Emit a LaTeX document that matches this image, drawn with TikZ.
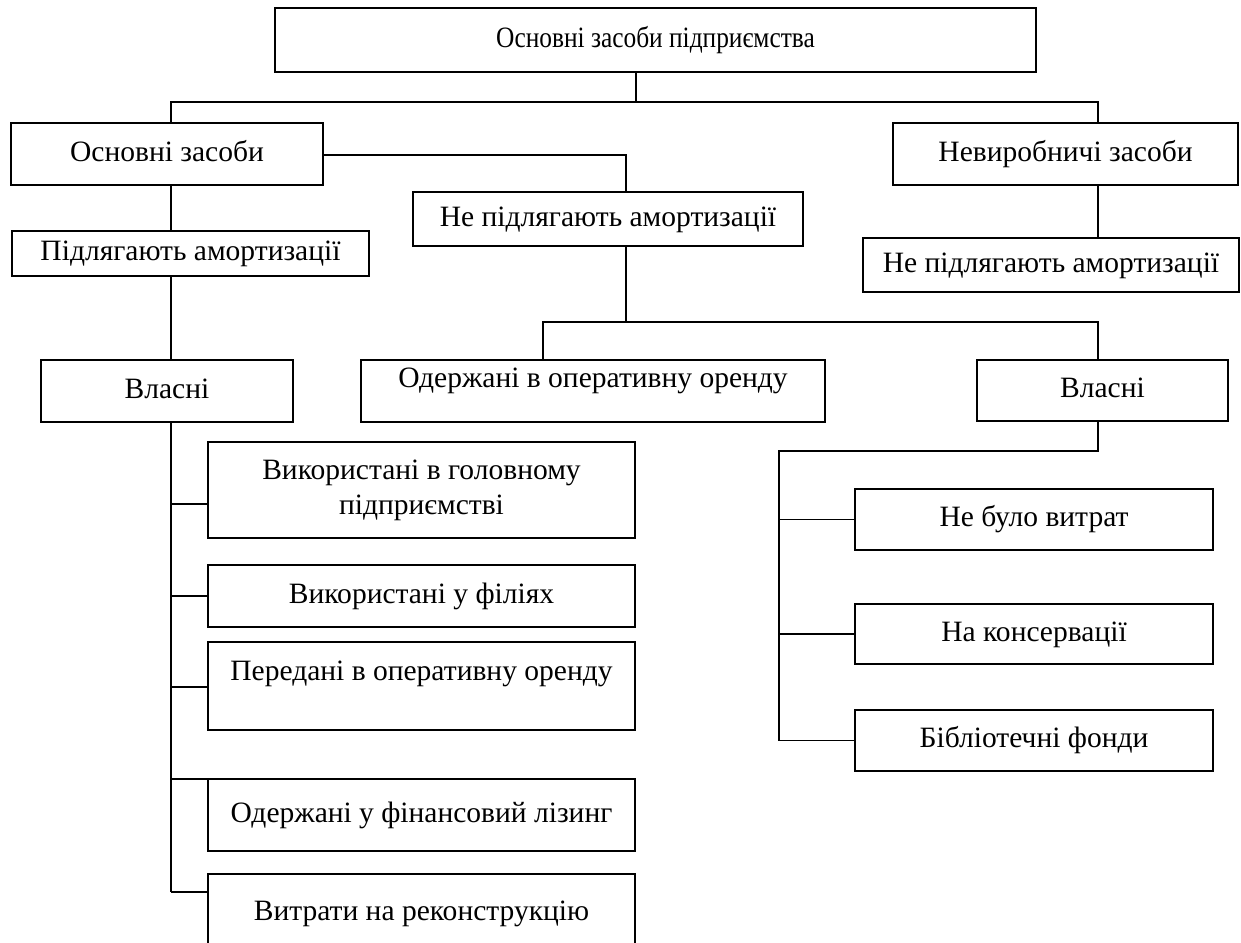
\documentclass[tikz,border=0pt]{standalone}
\usepackage{fontspec}
\setmainfont{Liberation Serif}
\usepackage{graphicx}
\usetikzlibrary{positioning}
\tikzset{
  box/.style={draw, line width=1.1pt, inner sep=0pt, font=\fontsize{16.8}{19.8}\selectfont},
  onebox/.style={box, text height=11.7pt, text depth=3.6pt},
  sz/.style 2 args={minimum width=#1*0.02cm, minimum height=#2*0.02cm},
  link/.style={line width=0.9pt}
}

\begin{document}
\begin{tikzpicture}[x=0.02cm,y=-0.02cm]
	\useasboundingbox (0,0) rectangle (1241,943);
	\clip (0,0) rectangle (1241,943);
	% boxes
	\node[onebox, sz={761}{64}] (top) at (655.5,40) {\scalebox{0.86}[1]{Основні засоби підприємства}};
	\node[onebox, sz={312}{62}] (osn) at (167,154) {Основні засоби};
	\node[onebox, sz={345}{62}] (nevyr) at (1065.5,154) {Невиробничі засоби};
	\node[onebox, sz={390}{54}] (mid) at (608,219) {Не підлягають амортизації};
	\node[onebox, sz={357}{45}] (pidl) at (190.5,253.5) {Підлягають амортизації};
	\node[onebox, sz={376}{54}] (nepidl) at (1051,265) {Не підлягають амортизації};
	\node[onebox, sz={252}{62}] (vlasL) at (167,391) {Власні};
	\node[onebox, sz={464}{62}, text depth=16pt] (oderzh) at (593,391) {Одержані в оперативну оренду};
	\node[onebox, sz={251}{61}] (vlasR) at (1102.5,390.5) {Власні};
	\node[box, sz={427}{96}, align=center] (b1) at (421.5,490) {Використані в головному\\підприємстві};
	\node[onebox, sz={427}{62}] (b2) at (421.5,596) {Використані у філіях};
	\node[onebox, sz={427}{88}, text depth=18pt] (b3) at (421.5,686) {Передані в оперативну оренду};
	\node[onebox, sz={427}{72}] (b4) at (421.5,815) {Одержані у фінансовий лізинг};
	\node[onebox, sz={427}{78}] (b5) at (421.5,913) {Витрати на реконструкцію};
	\node[onebox, sz={358}{61}] (c1) at (1034,519.5) {Не було витрат};
	\node[onebox, sz={358}{60}] (c2) at (1034,634) {На консервації};
	\node[onebox, sz={358}{61}] (c3) at (1034,740.5) {Бібліотечні фонди};
	% junctions
	\coordinate (t0) at (171,102);
	\coordinate (t1) at (636,102);
	\coordinate (t2) at (1098,102);
	\coordinate (m1) at (626,155);
	\coordinate (n1) at (543,322);
	\coordinate (n2) at (1098,322);
	\coordinate (k0) at (1098,451);
	\coordinate (k1) at (779,451);
	\foreach \n/\y in {1/504,2/596,3/687,4/779,5/892}
		\coordinate (l\n) at (171,\y);
	% links
	\draw[link] (top.south -| t1) -- (t1);
	\draw[link] (osn.north -| t0) -- (t0) -- (t2) -- (nevyr.north -| t2);
	\draw[link] (osn.east |- m1) -- (m1) -- (mid.north -| m1);
	\draw[link] (osn.south -| t0) -- (pidl.north -| t0);
	\draw[link] (pidl.south -| t0) -- (vlasL.north -| t0);
	\draw[link] (vlasL.south -| t0) -- (l5);
	\foreach \n in {1,...,5}
		\draw[link] (l\n) -- (b\n.west |- l\n);
	\draw[link] (mid.south -| m1) -- (m1 |- n1);
	\draw[link] (oderzh.north -| n1) -- (n1) -- (n2) -- (vlasR.north -| n2);
	\draw[link] (nevyr.south -| t2) -- (nepidl.north -| t2);
	\draw[link] (vlasR.south -| k0) -- (k0) -- (k1) -- (k1 |- c3.west);
	\foreach \n in {1,2,3}
		\draw[link] (k1 |- c\n.west) -- (c\n.west);
\end{tikzpicture}
\end{document}
